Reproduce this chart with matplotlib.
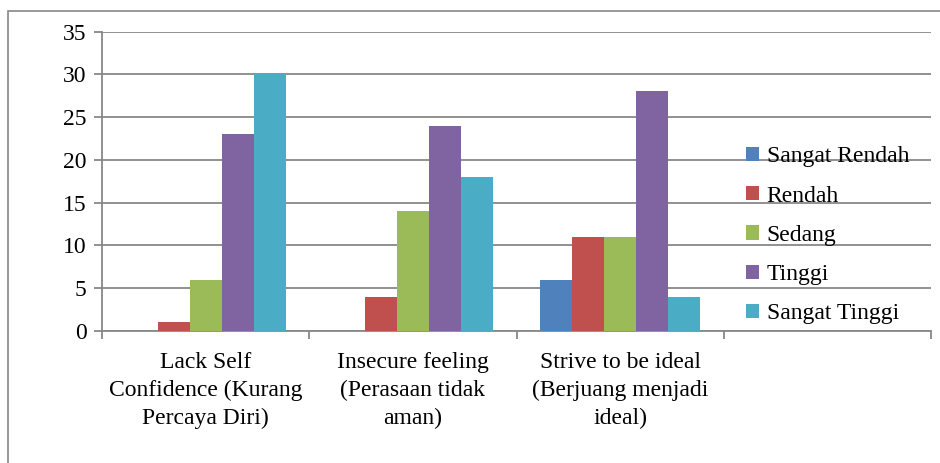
import matplotlib.pyplot as plt
import matplotlib.patches as patches
import numpy as np

plt.rcParams["font.family"] = "serif"
plt.rcParams["font.serif"] = ["Liberation Serif", "Times New Roman", "DejaVu Serif"]

categories = ["Lack Self\nConfidence (Kurang\nPercaya Diri)",
              "Insecure feeling\n(Perasaan tidak\naman)",
              "Strive to be ideal\n(Berjuang menjadi\nideal)",
              ""]
seriesNames = ["Sangat Rendah", "Rendah", "Sedang", "Tinggi", "Sangat Tinggi"]
sangatRendah = [0, 0, 6]
rendah = [1, 4, 11]
sedang = [6, 14, 11]
tinggi = [23, 24, 28]
sangatTinggi = [30, 18, 4]
seriesColors = ["#4F81BD", "#C0504D", "#9BBB59", "#8064A2", "#4BACC6"]

gridColor = "#888888"
fs = 17

fig = plt.figure(figsize=(9.4, 4.63), dpi=100)
ax = fig.add_axes([102/940, 1 - 331/463, (931 - 102)/940, (331 - 31.5)/463])

# outer chart border (only top and left visible)
fig.patches.append(patches.Rectangle((8/940, -0.2), 1.2, 1.2 - 11/463,
                                     transform=fig.transFigure, fill=False,
                                     edgecolor=gridColor, linewidth=1.2))

allSeries = [sangatRendah, rendah, sedang, tinggi, sangatTinggi]
barWidth = 32/207
x = np.arange(len(sangatRendah))
for i, (vals, name, col) in enumerate(zip(allSeries, seriesNames, seriesColors)):
    ax.bar(x + (i - 2)*barWidth, vals, width=barWidth, color=col, label=name, zorder=3)

ax.set_xlim(-0.5, len(categories) - 0.5)
ax.set_ylim(0, 35)
ax.set_yticks(np.arange(0, 36, 5))
ax.yaxis.grid(True, color=gridColor, linewidth=1.3, zorder=0)
ax.set_axisbelow(True)

ax.set_xticks(np.arange(len(categories)))
ax.set_xticklabels(categories, fontsize=fs, linespacing=1.42, va="top")
ax.tick_params(axis="x", length=0, pad=15)
ax.set_xticks(np.arange(len(categories) + 1) - 0.5, minor=True)
ax.tick_params(axis="x", which="minor", length=6, width=1.3, color=gridColor)
ax.tick_params(axis="y", length=6, width=1.3, color=gridColor, labelsize=fs, pad=5)

for s in ["top", "right"]:
    ax.spines[s].set_visible(False)
for s in ["left", "bottom"]:
    ax.spines[s].set_color(gridColor)
    ax.spines[s].set_linewidth(1.3)

fig.legend(loc="upper left", bbox_to_anchor=(737/940, 1 - 137/463), frameon=False,
           fontsize=fs, handlelength=0.55, handleheight=0.55, handletextpad=0.3,
           labelspacing=0.77, borderaxespad=0)

fig.savefig("out.png", dpi=100)
